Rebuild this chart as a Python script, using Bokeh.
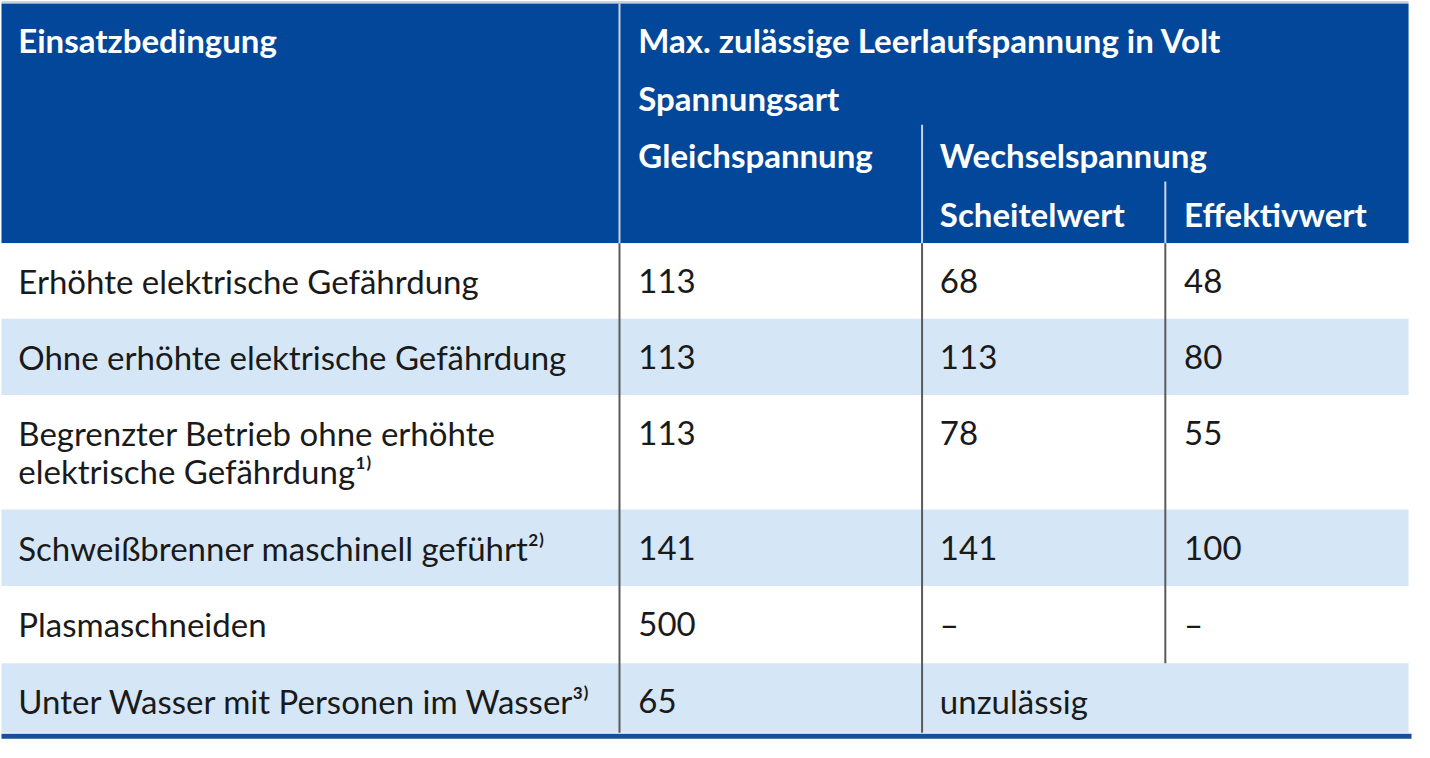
from bokeh.plotting import figure
from bokeh.models import Range1d, ColumnDataSource
from bokeh.core.properties import value
from bokeh.embed import file_html
from bokeh.resources import INLINE

# ---- data ----
conditions = [
    ["Erhöhte elektrische Gefährdung"],
    ["Ohne erhöhte elektrische Gefährdung"],
    ["Begrenzter Betrieb ohne erhöhte", "elektrische Gefährdung¹⁾"],
    ["Schweißbrenner maschinell geführt²⁾"],
    ["Plasmaschneiden"],
    ["Unter Wasser mit Personen im Wasser³⁾"],
]
gleichspannung = ["113", "113", "113", "141", "500", "65"]
scheitelwert = ["68", "113", "78", "141", "–", "unzulässig"]
effektivwert = ["48", "80", "55", "100", "–", ""]

header_texts = ["Einsatzbedingung", "Max. zulässige Leerlaufspannung in Volt", "Spannungsart",
                "Gleichspannung", "Wechselspannung", "Scheitelwert", "Effektivwert"]

# ---- layout (reference pixel space) ----
W, H = 1430, 758
row_top = [248, 325, 403, 520, 598, 677]
row_bot = [325, 403, 520, 598, 677, 748]
col_x = [18, 645, 950, 1197]
line_gap = 39
HEADER_BLUE = "#03479a"
LIGHT = "#d5e7f7"
TEXT = "#1a1a1a"
FONT = "Lato"

p = figure(width=1414, height=742, x_range=Range1d(0, W), y_range=Range1d(H, 0),
           output_backend="svg", toolbar_location=None, min_border=0)
p.axis.visible = False
p.grid.visible = False
p.outline_line_color = None
p.background_fill_color = "white"
p.border_fill_color = "white"

# header background
p.quad(left=[1], right=[1424], top=[3], bottom=[248], fill_color=HEADER_BLUE, line_color=None)
p.segment(x0=[1], y0=[1.5], x1=[1424], y1=[1.5], line_color="#c9d3df", line_width=2)

# row stripes
fills = [("white" if i % 2 == 0 else LIGHT) for i in range(len(conditions))]
p.quad(left=[1] * 6, right=[1424] * 6, top=row_top, bottom=row_bot,
       fill_color=fills, line_color=None)

# bottom rule
p.segment(x0=[1], y0=[751.5], x1=[1427], y1=[751.5], line_color="#174f9c", line_width=5)

# header dividers (light)
p.segment(x0=[626, 932, 1178], y0=[3, 127, 185], x1=[626, 932, 1178], y1=[248, 248, 248],
          line_color="#c8d3e4", line_width=2)
# body dividers (dark)
p.segment(x0=[626, 932, 1178], y0=[248, 248, 248], x1=[626, 932, 1178], y1=[748, 748, 677],
          line_color="#5a5a5a", line_width=2)

# header texts
hx = [18, 645, 645, 645, 950, 950, 1197]
hy = [40, 40, 100, 158, 158, 218, 218]
hsrc = ColumnDataSource(dict(x=hx, y=hy, t=header_texts))
p.text(x="x", y="y", text="t", source=hsrc, text_color="white", text_font=value(FONT),
       text_font_style="bold", text_font_size="33px", text_baseline="middle", text_align="left")

# body texts
xs, ys, ts = [], [], []
for i, lines in enumerate(conditions):
    for j, ln in enumerate(lines):
        xs.append(col_x[0]); ys.append(row_top[i] + 39 + j * line_gap); ts.append(ln)
for i in range(len(conditions)):
    for c, col in enumerate([gleichspannung, scheitelwert, effektivwert]):
        if col[i]:
            xs.append(col_x[c + 1]); ys.append(row_top[i] + 39); ts.append(col[i])
bsrc = ColumnDataSource(dict(x=xs, y=ys, t=ts))
p.text(x="x", y="y", text="t", source=bsrc, text_color=TEXT, text_font=value(FONT),
       text_font_size="33px", text_baseline="middle", text_align="left")

open("out.html", "w").write(file_html(p, INLINE))
